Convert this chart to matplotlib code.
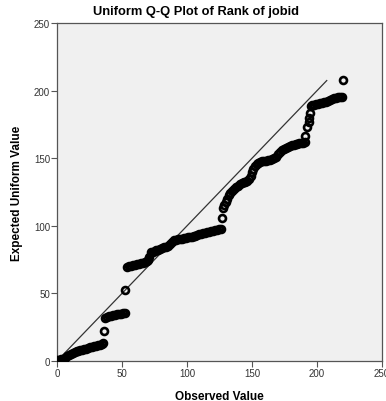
import numpy as np
import matplotlib
matplotlib.use("Agg")
import matplotlib.pyplot as plt

plt.rcParams['font.family'] = ['Liberation Sans', 'DejaVu Sans']

observed = [0, 1.5, 3, 4.5, 6, 7.5, 9, 10.5, 12, 13.5, 15, 16.5, 18, 19.5, 21, 22.5, 24, 25.5, 27, 28.5,
            30, 31.5, 33, 34.5, 35.5,
            36,
            37, 38.5, 40, 41.5, 43, 44.5, 46, 47.5, 49, 50.5, 52,
            52.5,
            54, 55.5, 57, 58.5, 60, 61.5, 63, 64.5, 66, 67.5, 69, 70,
            71,
            72, 73.5, 75, 76.5, 78, 79.5, 81, 82.5, 84, 85.5, 87, 88.5, 90, 91.5, 93, 94.5, 96, 97.5, 99,
            100.5, 102, 103.5, 105, 106.5, 108, 109.5, 111, 112.5, 114, 115.5, 117, 118.5, 120, 121.5,
            123, 124.5, 126,
            126.8,
            127.6, 128.8, 130, 131, 132, 133, 134.5, 136, 137.5, 139, 140.5, 142, 143.5, 145, 146.5,
            148, 149, 150, 150.8,
            152, 153.5, 155, 156.5, 158, 159.5, 161, 162.5, 164, 165.5, 167, 168.5, 170, 171.5, 173,
            174.5, 176, 177.5, 179, 180.5, 182, 183.5, 185, 186.5, 188, 189.5, 190.5,
            191, 192, 193.5, 194, 194.8,
            195.3, 196.5, 198, 199.5, 201, 202.5, 204, 205.5, 207, 208.5, 210, 211.5, 213, 214.5, 216,
            217.5, 219,
            220]
expected = [0.5, 0.8, 1.2, 1.8, 2.5, 3.8, 4.8, 5.5, 6.1, 6.6, 7.1, 7.6, 8.0, 8.4, 8.8, 9.2, 9.6, 10.0, 10.4, 10.8,
            11.2, 11.6, 12.0, 12.6, 13.0,
            22,
            31.5, 32.3, 33, 33.5, 33.9, 34.2, 34.5, 34.8, 35.1, 35.4, 35.7,
            52.5,
            69.5, 70, 70.4, 70.8, 71.2, 71.6, 72, 72.4, 72.8, 73.3, 74, 75,
            77,
            80.3, 80.8, 81.3, 81.8, 82.3, 82.8, 83.4, 84, 84.6, 85.4, 86.5, 88, 89.2, 89.7, 90, 90.3, 90.6, 90.9, 91.2,
            91.5, 91.8, 92.1, 92.4, 92.8, 93.2, 93.6, 94, 94.5, 95, 95.4, 95.8, 96.1, 96.3, 96.6,
            96.9, 97.3, 97.8,
            106,
            113.5, 115.5, 118, 120, 122.5, 124.5, 126, 127.2, 128.5, 129.8, 131, 131.8, 132.3, 132.8, 133.3,
            134.5, 137, 139.5, 142,
            144, 146, 146.8, 147.3, 147.7, 148, 148.3, 148.6, 149, 149.5, 150.3, 151.3, 152.8, 154.5, 156,
            157, 157.8, 158.5, 159.2, 159.7, 160.1, 160.4, 160.7, 161, 161.3, 161.6, 162,
            166.5, 173.5, 177, 179.5, 183.4,
            188.5, 189.2, 189.6, 190, 190.3, 190.6, 190.9, 191.3, 191.8, 192.5, 193.3, 194, 194.5, 194.8, 195.1,
            195.4, 195.7,
            208]
ref_line = [1, 207.5]
ticks = [0, 50, 100, 150, 200, 250]

fig = plt.figure(figsize=(3.86, 4.02), dpi=100)
ax = fig.add_axes([0.1477, 0.0995, 0.8419, 0.8405])
ax.set_facecolor('#f0f0f0')

ax.plot(ref_line, ref_line, color='#333333', lw=0.9, zorder=2)
ax.plot(observed, expected, 'o', ms=5, mfc='none', mec='black', mew=1.9, zorder=3)

ax.set_xlim(0, 250)
ax.set_ylim(0, 250)
ax.set_xticks(ticks)
ax.set_yticks(ticks)
ax.tick_params(direction='out', length=4, width=0.8, color='#555555', labelsize=7, labelcolor='#333333', pad=1)
for s in ax.spines.values():
    s.set_color('#555555')
    s.set_linewidth(0.9)

fig.text(0.509, 0.969, 'Uniform Q-Q Plot of Rank of jobid', fontsize=9.3, fontweight='bold',
         ha='center', va='center')
ax.set_xlabel('Observed Value', fontsize=8.5, fontweight='bold', labelpad=9)
ax.set_ylabel('Expected Uniform Value', fontsize=8.5, fontweight='bold')
ax.yaxis.set_label_coords(-0.105, 0.5)

fig.savefig('out.png', dpi=100)
